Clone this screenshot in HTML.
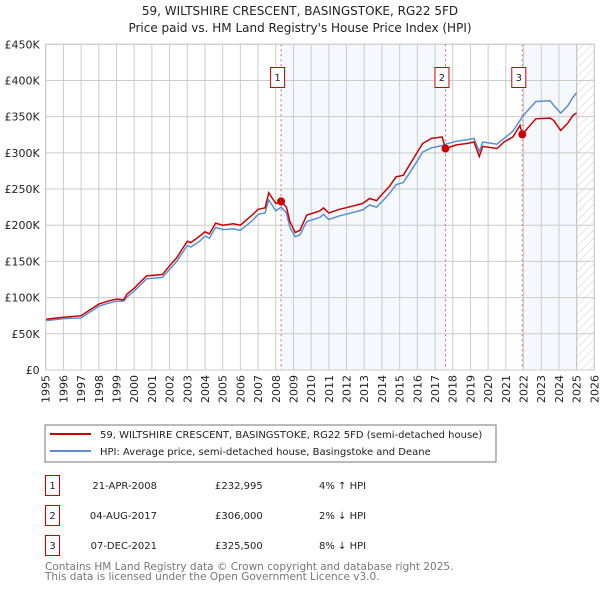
<!DOCTYPE html>
<html><head><meta charset="utf-8"><style>
body{margin:0;background:#fff;font-family:"DejaVu Sans","Liberation Sans",sans-serif;}
svg text{font-family:"DejaVu Sans","Liberation Sans",sans-serif;}
</style></head><body>
<svg id="c" width="600" height="590" xmlns="http://www.w3.org/2000/svg">
<defs><pattern id="hatch" width="6" height="6" patternUnits="userSpaceOnUse" patternTransform="rotate(45)"><line x1="0" y1="0" x2="0" y2="6" stroke="#ccc" stroke-width="1"/></pattern></defs>
<text x="300" y="15" text-anchor="middle" font-size="12" fill="#222">59, WILTSHIRE CRESCENT, BASINGSTOKE, RG22 5FD</text>
<text x="300" y="32" text-anchor="middle" font-size="12" fill="#222">Price paid vs. HM Land Registry's House Price Index (HPI)</text>
<g id="bg"></g><g id="grid"></g><g id="series"></g><g id="axes"></g>
<rect x="45" y="425" width="451" height="37" fill="#fff" stroke="#777"/>
<line x1="50" y1="434" x2="91" y2="434" stroke="#cc0000" stroke-width="2"/>
<text x="100" y="438" font-size="10" fill="#222">59, WILTSHIRE CRESCENT, BASINGSTOKE, RG22 5FD (semi-detached house)</text>
<line x1="50" y1="451" x2="91" y2="451" stroke="#5b8fd4" stroke-width="2"/>
<text x="100" y="455" font-size="10" fill="#222">HPI: Average price, semi-detached house, Basingstoke and Deane</text>
<g id="table"></g>
<text x="45" y="570" font-size="10.5" fill="#777">Contains HM Land Registry data © Crown copyright and database right 2025.</text>
<text x="45" y="580" font-size="10.5" fill="#777">This data is licensed under the Open Government Licence v3.0.</text>
</svg>
<script>
const priceYears=[1995,1996,1997,1997.5,1998,1998.5,1999,1999.4,1999.6,2000,2000.7,2001.6,2002,2002.4,2003,2003.2,2003.7,2004,2004.25,2004.6,2005,2005.6,2006,2006.7,2007,2007.4,2007.6,2008,2008.3,2008.6,2008.8,2009.1,2009.37,2009.75,2010.5,2010.7,2011.0,2011.6,2012.1,2012.9,2013.3,2013.7,2013.9,2014.4,2014.8,2015.2,2015.5,2015.9,2016.3,2016.8,2017.4,2017.59,2018.2,2018.8,2019.2,2019.5,2019.7,2020.5,2020.9,2021.4,2021.8,2021.93,2022.3,2022.7,2023.5,2023.7,2024.1,2024.5,2024.8,2025.0];
const priceValues=[70,73,75,83,91,95,98,97,105,113,130,132,144,155,178,176,185,191,188,203,200,202,200,215,222,224,245,230,233,225,205,190,193,214,220,224,217,222,225,230,237,234,240,253,267,269,281,297,313,320,322,306,311,313,315,295,309,306,315,322,338,325.5,336,347,348,345,331,341,352,355];
const hpiValues=[68,71,72,80,88,92,95,95,101,109,126,128,139,150,172,170,178,185,182,197,194,195,193,207,215,217,235,220,225,217,197,184,187,205,211,215,208,213,216,221,228,225,230,243,256,259,270,285,301,307,310,312,316,318,320,302,315,312,320,330,345,350,360,371,372,366,355,365,377,383];
const yTicks=[0,50,100,150,200,250,300,350,400,450];
const yTickLabels=["£0","£50K","£100K","£150K","£200K","£250K","£300K","£350K","£400K","£450K"];
const saleLabels=["1","2","3"];
const saleYears=[2008.3,2017.59,2021.93];
const saleValues=[232.995,306,325.5];
const saleDates=["21-APR-2008","04-AUG-2017","07-DEC-2021"];
const salePrices=["£232,995","£306,000","£325,500"];
const saleHpi=["4% ↑ HPI","2% ↓ HPI","8% ↓ HPI"];

const NS="http://www.w3.org/2000/svg";
const L=45.7,R=594.3,T=44.3,B=370,X0=1995,X1=2026,YMAX=450;
const xs=y=>L+(y-X0)/(X1-X0)*(R-L);
const ys=v=>B-v/YMAX*(B-T);
function mk(p,tag,a){const e=document.createElementNS(NS,tag);for(const k in a)e.setAttribute(k,a[k]);p.appendChild(e);return e;}
const bg=document.getElementById('bg'),grid=document.getElementById('grid'),ser=document.getElementById('series'),ax=document.getElementById('axes'),tb=document.getElementById('table');
let e;
e=mk(bg,'rect',{x:xs(saleYears[0]),y:T,width:xs(saleYears[1])-xs(saleYears[0]),height:B-T,fill:'#eef3fc',opacity:0.6});


e=mk(bg,'rect',{x:xs(saleYears[2]),y:T,width:xs(2025.0)-xs(saleYears[2]),height:B-T,fill:'#eef3fc',opacity:0.6});


e=mk(bg,'rect',{x:xs(2025.0),y:T,width:R-xs(2025.0),height:B-T,fill:'url(#hatch)'});


for(let y=X0;y<=X1;y++){
 e=mk(grid,'line',{x1:xs(y),x2:xs(y),y1:T,y2:B,stroke:'#ccc','stroke-width':1});
 
 
 const tx=xs(y)+4,ty=B+5;
 e=mk(ax,'text',{x:tx,y:ty,transform:`rotate(-90 ${tx} ${ty})`,'text-anchor':'end','font-size':11,fill:'#222'});
 e.textContent=String(y);
 
 
}
yTicks.forEach((v,i)=>{
 e=mk(grid,'line',{x1:L,x2:R,y1:ys(v),y2:ys(v),stroke:'#ccc','stroke-width':1});
 
 
 e=mk(ax,'text',{x:L-6,y:ys(v)+4,'text-anchor':'end','font-size':11,fill:'#222'});
 e.textContent=yTickLabels[i];
 
 
});
e=mk(bg,'line',{x1:xs(2025.0),x2:xs(2025.0),y1:T,y2:B,stroke:'#888','stroke-width':1});


function path(vals){return vals.map((v,i)=>(i?'L':'M')+xs(priceYears[i]).toFixed(1)+','+ys(v).toFixed(1)).join(' ');}
e=mk(ser,'path',{d:path(hpiValues),fill:'none',stroke:'#5b8fd4','stroke-width':1.5});


e=mk(ser,'path',{d:path(priceValues),fill:'none',stroke:'#cc0000','stroke-width':1.5});


saleYears.forEach((y,i)=>{
 e=mk(ser,'line',{x1:xs(y),x2:xs(y),y1:T,y2:B,stroke:'#e06060','stroke-width':1,'stroke-dasharray':'2,3'});
 
 
 e=mk(ser,'circle',{cx:xs(y),cy:ys(saleValues[i]),r:4,fill:'#cc0000'});
 
 
 e=mk(ser,'rect',{x:xs(y)-10.5,y:67.5,width:14,height:20,fill:'#fff',stroke:'#cc0000'});
 
 
 e=mk(ser,'text',{x:xs(y)-3.5,y:81,'text-anchor':'middle','font-size':10,fill:'#222'});
 e.textContent=saleLabels[i];
 
 
 const ry=475+i*30;
 e=mk(tb,'rect',{x:45.5,y:ry+0.5,width:14,height:20,fill:'#fff',stroke:'#cc0000'});
 
 
 e=mk(tb,'text',{x:52.5,y:ry+14,'text-anchor':'middle','font-size':10,fill:'#222'});
 e.textContent=saleLabels[i];
 
 
 e=mk(tb,'text',{x:157,y:ry+14,'text-anchor':'end','font-size':10,fill:'#222'});
 e.textContent=saleDates[i];
 
 
 e=mk(tb,'text',{x:215,y:ry+14,'font-size':10,fill:'#222'});
 e.textContent=salePrices[i];
 
 
 e=mk(tb,'text',{x:319,y:ry+14,'font-size':10,fill:'#222'});
 e.textContent=saleHpi[i];
 
 
});
e=mk(ax,'rect',{x:L,y:T,width:R-L,height:B-T,fill:'none',stroke:'#ccc'});


</script>
</body></html>
